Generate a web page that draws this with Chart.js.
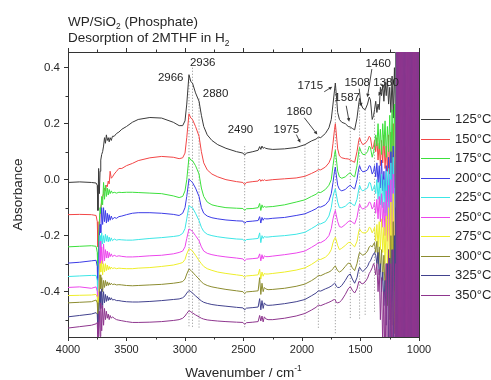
<!DOCTYPE html>
<html><head><meta charset="utf-8">
<script src="https://cdn.jsdelivr.net/npm/chart.js@4.4.1/dist/chart.umd.min.js"></script>
<style>html,body{margin:0;padding:0;background:#fff;}canvas{display:block;}</style>
</head><body>
<canvas id="c" width="491" height="380"></canvas>
<script>
// ---------- DATA ----------
const wavenumbers = [
  4000, 3900, 3800, 3760,
  3750, 3744, 3738, 3732, 3726, 3720, 3712, 3704, 3696, 3688, 3680, 3672, 3664, 3656, 3648, 3640, 3630, 3620, 3605, 3585, 3565,
  3540, 3500, 3450, 3400, 3300, 3200, 3100, 3050, 3020, 3000,
  2985, 2966, 2950, 2936, 2910, 2880, 2860, 2840, 2810, 2770,
  2720, 2650, 2560, 2505, 2490, 2475, 2420, 2375, 2362, 2352,
  2342, 2332, 2322, 2310, 2290, 2250, 2150, 2050, 1975, 1920,
  1880, 1860, 1840, 1800, 1770, 1750, 1735, 1722, 1715, 1708,
  1695, 1680, 1660, 1630, 1605, 1587, 1570, 1550, 1530, 1515,
  1508, 1495, 1480, 1460, 1440, 1425, 1415, 1400, 1388, 1380,
  1370, 1360, 1350, 1340, 1330, 1320, 1310, 1300, 1290, 1280, 1270, 1260, 1250, 1240, 1230, 1220, 1210, 1200
];
const satWavenumbers = [1195,1190,1185,1180,1175,1170,1165,1160,1155,1150,1145,1140,1135,1130,1125,1120,1115,1110,1105,1100,
  1095,1090,1085,1080,1075,1070,1065,1060,1055,1050,1045,1040,1035,1030,1025,1020,1015,1010,1005,1000];

const temperatures = ['125', '150', '175', '200', '225', '250', '275', '300', '325', '350'];

const s125 = [
  -0.01, -0.008, -0.01, -0.012,
  -0.02, -0.11, 0.04, -0.05, 0.03, 0.07, 0.09, 0.1, 0.12, 0.15, 0.13, 0.16, 0.14, 0.15, 0.135, 0.15, 0.14, 0.155, 0.155, 0.165, 0.17,
  0.18, 0.19, 0.205, 0.215, 0.222, 0.22, 0.205, 0.193, 0.193, 0.21,
  0.27, 0.375, 0.35, 0.345, 0.31, 0.28, 0.23, 0.19, 0.16, 0.14,
  0.125, 0.112, 0.1, 0.095, 0.088, 0.095, 0.1, 0.105, 0.118, 0.108,
  0.12, 0.112, 0.115, 0.112, 0.11, 0.108, 0.11, 0.115, 0.125, 0.138,
  0.145, 0.152, 0.15, 0.165, 0.185, 0.215, 0.27, 0.32, 0.345, 0.31,
  0.24, 0.215, 0.205, 0.2, 0.19, 0.188, 0.183, 0.178, 0.22, 0.27,
  0.29, 0.27, 0.255, 0.25, 0.27, 0.295, 0.285, 0.215, 0.23, 0.25,
  0.28, 0.24, 0.27, 0.25, 0.33, 0.3, 0.34, 0.28, 0.35, 0.3, 0.36, 0.27, 0.33, 0.24, 0.37, 0.22, 0.4, 0.2
];
const s150 = [
  -0.125, -0.124, -0.125, -0.128,
  -0.15, -0.24, -0.2, -0.17, -0.12, -0.1, -0.08, -0.06, -0.05, -0.03, -0.04, -0.02, -0.025, -0.005, -0.015, 0.03, 0.005, 0.01, 0.02, 0.03, 0.04,
  0.04, 0.05, 0.058, 0.068, 0.078, 0.083, 0.08, 0.075, 0.078, 0.095,
  0.15, 0.235, 0.22, 0.215, 0.19, 0.155, 0.1, 0.06, 0.035, 0.02,
  0.01, 0.0, -0.007, -0.01, -0.018, -0.01, -0.007, -0.005, 0.002, -0.006,
  0.0, -0.004, 0.0, -0.003, -0.002, 0.0, 0.003, 0.006, 0.012, 0.022,
  0.03, 0.036, 0.035, 0.045, 0.06, 0.08, 0.13, 0.18, 0.2, 0.17,
  0.11, 0.085, 0.078, 0.075, 0.074, 0.07, 0.066, 0.062, 0.1, 0.14,
  0.15, 0.135, 0.125, 0.13, 0.14, 0.155, 0.15, 0.11, 0.12, 0.14,
  0.1, 0.15, 0.07, 0.13, 0.05, 0.14, 0.06, 0.16, 0.04, 0.12, 0.03, 0.16, 0.02, 0.17, 0.0, 0.2, -0.03, 0.22
];
const s175 = [
  -0.24, -0.238, -0.236, -0.238,
  -0.26, -0.33, -0.2, -0.15, -0.1, -0.12, -0.06, -0.09, -0.01, -0.07, -0.02, -0.06, -0.03, -0.055, -0.035, -0.05, -0.04, -0.048, -0.045, -0.048, -0.045,
  -0.046, -0.045, -0.045, -0.046, -0.048, -0.05, -0.058, -0.064, -0.06, -0.04,
  0.0, 0.08, 0.07, 0.068, 0.05, 0.02, -0.03, -0.06, -0.08, -0.09,
  -0.095, -0.1, -0.102, -0.103, -0.11, -0.104, -0.103, -0.1, -0.085, -0.11,
  -0.09, -0.1, -0.095, -0.098, -0.097, -0.096, -0.09, -0.08, -0.072, -0.06,
  -0.052, -0.045, -0.046, -0.035, -0.02, 0.0, 0.05, 0.09, 0.105, 0.08,
  0.03, 0.01, 0.005, 0.01, 0.02, 0.025, 0.015, 0.01, 0.05, 0.1,
  0.115, 0.1, 0.09, 0.09, 0.1, 0.12, 0.115, 0.08, 0.1, 0.12,
  0.16, 0.12, 0.2, 0.11, 0.18, 0.09, 0.2, 0.12, 0.21, 0.08, 0.19, 0.1, 0.23, 0.06, 0.25, 0.03, 0.27, 0.0
];
const s200 = [
  -0.298, -0.295, -0.29, -0.288,
  -0.31, -0.42, -0.3, -0.2, -0.16, -0.19, -0.1, -0.16, -0.1, -0.15, -0.11, -0.155, -0.12, -0.15, -0.125, -0.145, -0.13, -0.142, -0.135, -0.138, -0.132,
  -0.13, -0.125, -0.12, -0.118, -0.118, -0.12, -0.124, -0.128, -0.12, -0.1,
  -0.06, 0.002, -0.005, -0.01, -0.03, -0.06, -0.1, -0.12, -0.13, -0.136,
  -0.14, -0.144, -0.147, -0.148, -0.156, -0.15, -0.148, -0.146, -0.132, -0.155,
  -0.135, -0.145, -0.138, -0.14, -0.14, -0.138, -0.135, -0.128, -0.122, -0.112,
  -0.104, -0.097, -0.098, -0.09, -0.075, -0.05, -0.01, 0.03, 0.045, 0.02,
  -0.02, -0.035, -0.04, -0.035, -0.025, -0.02, -0.028, -0.033, 0.0, 0.04,
  0.05, 0.035, 0.028, 0.03, 0.035, 0.05, 0.048, 0.02, 0.03, 0.05,
  0.01, 0.06, -0.01, 0.05, -0.03, 0.07, -0.04, 0.03, -0.06, 0.05, -0.08, 0.08, -0.1, 0.1, -0.13, 0.12, -0.15, 0.15
];
const s225 = [
  -0.346, -0.344, -0.342, -0.342,
  -0.36, -0.45, -0.35, -0.27, -0.2, -0.24, -0.19, -0.23, -0.2, -0.225, -0.195, -0.22, -0.2, -0.222, -0.205, -0.22, -0.208, -0.218, -0.212, -0.216, -0.214,
  -0.215, -0.216, -0.216, -0.214, -0.21, -0.207, -0.203, -0.2, -0.192, -0.175,
  -0.14, -0.093, -0.098, -0.1, -0.12, -0.146, -0.17, -0.185, -0.195, -0.2,
  -0.204, -0.208, -0.212, -0.213, -0.22, -0.214, -0.212, -0.21, -0.19, -0.225,
  -0.2, -0.21, -0.203, -0.205, -0.205, -0.203, -0.2, -0.195, -0.188, -0.175,
  -0.165, -0.158, -0.158, -0.15, -0.13, -0.1, -0.06, -0.04, -0.033, -0.05,
  -0.08, -0.1, -0.1, -0.095, -0.085, -0.08, -0.088, -0.093, -0.07, -0.035,
  -0.02, -0.035, -0.04, -0.035, -0.03, -0.01, -0.012, -0.04, -0.03, -0.02,
  -0.05, 0.0, -0.07, -0.01, -0.09, 0.02, -0.1, 0.0, -0.12, 0.03, -0.14, 0.04, -0.16, 0.06, -0.2, 0.08, -0.22, 0.1
];
const s250 = [
  -0.385, -0.383, -0.388, -0.383,
  -0.4, -0.47, -0.4, -0.33, -0.22, -0.3, -0.24, -0.3, -0.23, -0.29, -0.25, -0.28, -0.255, -0.28, -0.26, -0.275, -0.265, -0.275, -0.27, -0.274, -0.272,
  -0.274, -0.276, -0.276, -0.275, -0.272, -0.27, -0.265, -0.26, -0.255, -0.24,
  -0.21, -0.176, -0.18, -0.185, -0.2, -0.218, -0.24, -0.255, -0.263, -0.268,
  -0.272, -0.276, -0.28, -0.283, -0.29, -0.284, -0.282, -0.28, -0.265, -0.29,
  -0.268, -0.283, -0.272, -0.275, -0.275, -0.273, -0.268, -0.262, -0.255, -0.242,
  -0.232, -0.225, -0.225, -0.215, -0.2, -0.175, -0.14, -0.118, -0.11, -0.125,
  -0.15, -0.168, -0.17, -0.16, -0.15, -0.146, -0.152, -0.158, -0.135, -0.1,
  -0.087, -0.1, -0.105, -0.1, -0.095, -0.08, -0.082, -0.105, -0.095, -0.08,
  -0.12, -0.07, -0.14, -0.06, -0.15, -0.05, -0.17, -0.08, -0.2, -0.04, -0.22, -0.02, -0.25, 0.0, -0.28, 0.02, -0.3, 0.05
];
const s275 = [
  -0.414, -0.413, -0.412, -0.41,
  -0.42, -0.5, -0.42, -0.36, -0.3, -0.33, -0.29, -0.34, -0.3, -0.33, -0.3, -0.325, -0.305, -0.322, -0.31, -0.32, -0.312, -0.318, -0.315, -0.318, -0.316,
  -0.317, -0.318, -0.318, -0.316, -0.314, -0.31, -0.305, -0.3, -0.296, -0.285,
  -0.265, -0.247, -0.25, -0.255, -0.27, -0.289, -0.3, -0.31, -0.318, -0.324,
  -0.33, -0.335, -0.34, -0.343, -0.35, -0.344, -0.342, -0.34, -0.32, -0.355,
  -0.33, -0.345, -0.335, -0.337, -0.337, -0.335, -0.33, -0.323, -0.315, -0.303,
  -0.292, -0.285, -0.285, -0.277, -0.265, -0.25, -0.225, -0.21, -0.206, -0.215,
  -0.235, -0.25, -0.245, -0.235, -0.225, -0.224, -0.232, -0.24, -0.22, -0.185,
  -0.176, -0.185, -0.19, -0.19, -0.185, -0.17, -0.172, -0.19, -0.18, -0.17,
  -0.22, -0.16, -0.24, -0.15, -0.25, -0.14, -0.26, -0.17, -0.3, -0.13, -0.32, -0.1, -0.35, -0.08, -0.38, -0.05, -0.4, 0.0
];
const s300 = [
  -0.44, -0.438, -0.436, -0.43,
  -0.44, -0.5, -0.47, -0.42, -0.34, -0.39, -0.35, -0.4, -0.36, -0.385, -0.36, -0.38, -0.365, -0.378, -0.368, -0.376, -0.37, -0.375, -0.373, -0.376, -0.375,
  -0.376, -0.378, -0.379, -0.378, -0.376, -0.374, -0.37, -0.367, -0.364, -0.355,
  -0.337, -0.319, -0.324, -0.33, -0.342, -0.355, -0.365, -0.372, -0.378, -0.383,
  -0.387, -0.392, -0.397, -0.4, -0.407, -0.401, -0.399, -0.397, -0.35, -0.41,
  -0.37, -0.4, -0.385, -0.39, -0.393, -0.392, -0.388, -0.381, -0.373, -0.361,
  -0.35, -0.342, -0.343, -0.335, -0.33, -0.325, -0.318, -0.31, -0.308, -0.315,
  -0.325, -0.33, -0.325, -0.31, -0.298, -0.3, -0.315, -0.325, -0.3, -0.27,
  -0.26, -0.265, -0.27, -0.265, -0.255, -0.24, -0.236, -0.24, -0.23, -0.225,
  -0.26, -0.22, -0.3, -0.24, -0.33, -0.25, -0.36, -0.27, -0.4, -0.3, -0.45, -0.25, -0.5, -0.2, -0.52, -0.15, -0.55, -0.1
];
const s325 = [
  -0.49, -0.485, -0.48, -0.475,
  -0.48, -0.55, -0.5, -0.44, -0.4, -0.46, -0.39, -0.45, -0.4, -0.44, -0.41, -0.435, -0.415, -0.432, -0.42, -0.43, -0.422, -0.43, -0.428, -0.432, -0.432,
  -0.434, -0.436, -0.437, -0.437, -0.435, -0.432, -0.428, -0.426, -0.422, -0.415,
  -0.405, -0.396, -0.4, -0.405, -0.415, -0.426, -0.433, -0.438, -0.442, -0.446,
  -0.449, -0.452, -0.456, -0.458, -0.465, -0.459, -0.457, -0.455, -0.425, -0.465,
  -0.432, -0.46, -0.44, -0.447, -0.449, -0.448, -0.443, -0.436, -0.428, -0.415,
  -0.405, -0.397, -0.398, -0.39, -0.385, -0.38, -0.375, -0.37, -0.372, -0.38,
  -0.385, -0.385, -0.378, -0.36, -0.342, -0.337, -0.355, -0.37, -0.35, -0.32,
  -0.313, -0.322, -0.328, -0.32, -0.31, -0.295, -0.29, -0.275, -0.265, -0.26,
  -0.27, -0.3, -0.26, -0.34, -0.3, -0.4, -0.33, -0.45, -0.36, -0.52, -0.3, -0.58, -0.28, -0.6, -0.25, -0.6, -0.2, -0.6
];
const s350 = [
  -0.53, -0.525, -0.52, -0.515,
  -0.51, -0.58, -0.53, -0.47, -0.56, -0.44, -0.54, -0.45, -0.52, -0.46, -0.5, -0.47, -0.495, -0.48, -0.5, -0.485, -0.495, -0.49, -0.495, -0.5, -0.502,
  -0.504, -0.507, -0.51, -0.51, -0.509, -0.507, -0.503, -0.5, -0.495, -0.487,
  -0.478, -0.468, -0.472, -0.476, -0.483, -0.49, -0.495, -0.498, -0.501, -0.503,
  -0.505, -0.507, -0.509, -0.51, -0.517, -0.511, -0.509, -0.507, -0.485, -0.505,
  -0.487, -0.508, -0.49, -0.497, -0.5, -0.5, -0.495, -0.487, -0.478, -0.466,
  -0.456, -0.448, -0.45, -0.443, -0.438, -0.434, -0.43, -0.428, -0.43, -0.438,
  -0.44, -0.438, -0.43, -0.41, -0.39, -0.382, -0.395, -0.405, -0.39, -0.365,
  -0.362, -0.37, -0.372, -0.365, -0.352, -0.335, -0.328, -0.315, -0.3, -0.31,
  -0.34, -0.3, -0.4, -0.32, -0.5, -0.35, -0.6, -0.4, -0.7, -0.3, -0.8, -0.25, -0.7, -0.3, -0.8, -0.25, -0.7, -0.3
];

// saturated (off-scale) readings below ~1200 cm-1
const sat125 = [1.2,-1.5,1.8,-1.1,1.4,-1.7,1.3,-1.2,1.9,-1.4,1.1,-1.6,1.5,-1.3,1.7,-1.2,1.4,-1.8,1.2,-1.5,1.6,-1.1,1.3,-1.7,1.8,-1.4,1.2,-1.6,1.5,-1.2,1.7,-1.3,1.1,-1.5,1.4,-1.8,1.6,-1.2,1.3,-1.4];
const sat150 = [-1.4,1.3,-1.6,1.2,-1.5,1.8,-1.1,1.6,-1.3,1.4,-1.7,1.2,-1.5,1.9,-1.2,1.4,-1.6,1.3,-1.8,1.5,-1.2,1.7,-1.4,1.1,-1.6,1.3,-1.5,1.8,-1.2,1.4,-1.7,1.6,-1.3,1.2,-1.5,1.4,-1.1,1.7,-1.6,1.3];
const sat175 = [1.5,-1.2,1.4,-1.8,1.1,-1.5,1.7,-1.3,1.2,-1.6,1.8,-1.4,1.3,-1.1,1.6,-1.7,1.2,-1.3,1.5,-1.6,1.4,-1.2,1.8,-1.5,1.1,-1.3,1.7,-1.4,1.6,-1.8,1.2,-1.5,1.4,-1.1,1.3,-1.7,1.5,-1.2,1.8,-1.6];
const sat200 = [-1.6,1.4,-1.2,1.7,-1.5,1.1,-1.8,1.3,-1.4,1.6,-1.2,1.5,-1.7,1.3,-1.1,1.8,-1.4,1.2,-1.6,1.5,-1.3,1.4,-1.8,1.6,-1.2,1.1,-1.5,1.7,-1.4,1.3,-1.6,1.2,-1.7,1.5,-1.3,1.8,-1.2,1.4,-1.5,1.1];
const sat225 = [1.3,-1.7,1.6,-1.4,1.2,-1.3,1.5,-1.6,1.8,-1.2,1.4,-1.5,1.1,-1.7,1.3,-1.4,1.6,-1.2,1.7,-1.8,1.2,-1.5,1.4,-1.3,1.6,-1.1,1.5,-1.7,1.3,-1.4,1.8,-1.2,1.6,-1.5,1.1,-1.3,1.4,-1.6,1.2,-1.8];
const sat250 = [-1.2,1.6,-1.5,1.3,-1.7,1.4,-1.2,1.8,-1.5,1.1,-1.3,1.6,-1.4,1.2,-1.8,1.5,-1.1,1.7,-1.3,1.4,-1.6,1.2,-1.5,1.8,-1.3,1.6,-1.2,1.4,-1.7,1.1,-1.5,1.3,-1.4,1.6,-1.8,1.2,-1.3,1.5,-1.1,1.7];
const sat275 = [1.7,-1.3,1.2,-1.5,1.6,-1.4,1.1,-1.7,1.3,-1.8,1.5,-1.2,1.4,-1.6,1.2,-1.3,1.8,-1.5,1.1,-1.4,1.7,-1.6,1.3,-1.2,1.5,-1.8,1.4,-1.1,1.2,-1.6,1.3,-1.4,1.7,-1.2,1.5,-1.5,1.1,-1.3,1.6,-1.7];
const sat300 = [-1.5,1.2,-1.7,1.6,-1.3,1.5,-1.4,1.2,-1.6,1.8,-1.1,1.3,-1.5,1.4,-1.7,1.2,-1.6,1.5,-1.2,1.3,-1.8,1.6,-1.1,1.4,-1.5,1.2,-1.7,1.3,-1.4,1.8,-1.2,1.5,-1.6,1.1,-1.3,1.7,-1.5,1.2,-1.4,1.6];
const sat325 = [1.8,-1.6,1.7,-1.8,1.6,-1.7,1.8,-1.6,1.7,-1.8,1.6,-1.7,1.8,-1.6,1.7,-1.8,1.6,-1.7,1.8,-1.6,1.7,-1.8,1.6,-1.7,1.8,-1.6,1.7,-1.8,1.6,-1.7,1.8,-1.6,1.7,-1.8,1.6,-1.7,1.8,-1.6,1.7,-1.8];
const sat350 = [-2,2,-2,2,-2,2,-2,2,-2,2,-2,2,-2,2,-2,2,-2,2,-2,2,-2,2,-2,2,-2,2,-2,2,-2,2,-2,2,-2,2,-2,2,-2,2,-2,2];

const xTicks = [1000, 1500, 2000, 2500, 3000, 3500, 4000];
const xMinorTicks = [1250, 1750, 2250, 2750, 3250, 3750];
const yTicks = [-0.4, -0.2, 0.0, 0.2, 0.4];
const yMinorTicks = [-0.5, -0.3, -0.1, 0.1, 0.3];

// marked bands: wavenumber, top, bottom of the dotted guide
const peakWavenumbers = [2966, 2936, 2880, 2490, 1975, 1860, 1715, 1587, 1508, 1460, 1380];
const peakTops    = [0.37, 0.40, 0.29, 0.12, 0.125, 0.15, 0.345, 0.185, 0.29, 0.25, 0.25];
const peakBottoms = [-0.53, -0.53, -0.53, -0.53, -0.50, -0.53, -0.55, -0.50, -0.50, -0.485, -0.475];
const peakLabels  = ['2966', '2936', '2880', '2490', '1975', '1860', '1715', '1587', '1508', '1460', '1380'];
const labelX = [3122, 2849, 2739, 2526, 2134, 2023, 1929, 1614, 1528, 1349, 1281];
const labelY = [0.364, 0.418, 0.307, 0.179, 0.179, 0.243, 0.336, 0.293, 0.346, 0.414, 0.346];
// arrows: from (wn, abs) to (wn, abs)
const arrowFrom = [[2048, 0.161], [1980, 0.221], [1810, 0.314], [1622, 0.264], [1511, 0.325], [1403, 0.395], [1298, 0.336]];
const arrowTo   = [[2014, 0.132], [1869, 0.161], [1741, 0.332], [1597, 0.207], [1494, 0.261], [1441, 0.294], [1347, 0.300]];

// ---------- BUILD ----------
const seriesValues = [s125, s150, s175, s200, s225, s250, s275, s300, s325, s350];
const satValues = [sat125, sat150, sat175, sat200, sat225, sat250, sat275, sat300, sat325, sat350];
const colors = ['#3a3a3a', '#f24646', '#3ce03c', '#3c3ce6', '#3ce6e6', '#ec46ec', '#eeee2a', '#8c8c30', '#42428e', '#8e368e'];
const FONT = '"Liberation Sans", Arial, Helvetica, sans-serif';
const TXT = '#262626';

seriesValues.forEach((s, i) => { if (s.length !== wavenumbers.length) console.error('length mismatch', i, s.length); });

const datasets = [];
temperatures.forEach((t, i) => {
  const pts = [];
  wavenumbers.forEach((w, j) => pts.push({x: w, y: seriesValues[i][j]}));
  satWavenumbers.forEach((w, j) => pts.push({x: w, y: satValues[i][j]}));
  datasets.push({
    label: t + '°C', data: pts, borderColor: colors[i], borderWidth: 1,
    pointRadius: 0, tension: 0, fill: false, order: 10 - i
  });
});
peakWavenumbers.forEach((w, k) => {
  datasets.push({
    label: 'guide' + w, data: [{x: w, y: peakTops[k]}, {x: w, y: peakBottoms[k]}],
    borderColor: '#8a8a8a', borderWidth: 0.8, borderDash: [1.2, 1.8], pointRadius: 0, order: 30
  });
});

function drawParts(ctx, x, y, parts, size) {
  let cx = x;
  parts.forEach(p => {
    const fs = p[1] ? size * 0.62 : size;
    ctx.font = fs + 'px ' + FONT;
    const dy = p[1] === 'sub' ? size * 0.28 : (p[1] === 'sup' ? -size * 0.42 : 0);
    ctx.fillText(p[0], cx, y + dy);
    cx += ctx.measureText(p[0]).width;
  });
  return cx - x;
}
function measureParts(ctx, parts, size) {
  let w = 0;
  parts.forEach(p => { ctx.font = (p[1] ? size * 0.62 : size) + 'px ' + FONT; w += ctx.measureText(p[0]).width; });
  return w;
}

const decor = {
  id: 'decor',
  afterDraw(chart) {
    const ctx = chart.ctx, xs = chart.scales.x, ys = chart.scales.y, ca = chart.chartArea;
    ctx.save();
    // minor ticks
    ctx.strokeStyle = '#333'; ctx.lineWidth = 1;
    ctx.beginPath();
    xMinorTicks.forEach(v => {
      const px = Math.round(xs.getPixelForValue(v)) + 0.5;
      ctx.moveTo(px, ca.bottom); ctx.lineTo(px, ca.bottom + 2.5);
      ctx.moveTo(px, ca.top); ctx.lineTo(px, ca.top - 2.5);
    });
    yMinorTicks.forEach(v => {
      const py = Math.round(ys.getPixelForValue(v)) + 0.5;
      ctx.moveTo(ca.left, py); ctx.lineTo(ca.left - 2.5, py);
    });
    ctx.stroke();

    // peak labels
    ctx.fillStyle = TXT; ctx.textAlign = 'center'; ctx.textBaseline = 'middle';
    ctx.font = '11.5px ' + FONT;
    peakLabels.forEach((l, k) => {
      ctx.fillText(l, xs.getPixelForValue(labelX[k]), ys.getPixelForValue(labelY[k]));
    });
    // arrows
    ctx.strokeStyle = '#333'; ctx.fillStyle = '#333'; ctx.lineWidth = 0.9;
    arrowFrom.forEach((f, k) => {
      const x1 = xs.getPixelForValue(f[0]), y1 = ys.getPixelForValue(f[1]);
      const x2 = xs.getPixelForValue(arrowTo[k][0]), y2 = ys.getPixelForValue(arrowTo[k][1]);
      const a = Math.atan2(y2 - y1, x2 - x1), h = 4;
      ctx.beginPath(); ctx.moveTo(x1, y1); ctx.lineTo(x2 - Math.cos(a) * 2, y2 - Math.sin(a) * 2); ctx.stroke();
      ctx.beginPath();
      ctx.moveTo(x2, y2);
      ctx.lineTo(x2 - h * Math.cos(a - 0.45), y2 - h * Math.sin(a - 0.45));
      ctx.lineTo(x2 - h * Math.cos(a + 0.45), y2 - h * Math.sin(a + 0.45));
      ctx.closePath(); ctx.fill();
    });

    // title
    ctx.fillStyle = TXT; ctx.textAlign = 'left'; ctx.textBaseline = 'alphabetic';
    drawParts(ctx, 68, 25.5, [['WP/SiO', 0], ['2', 'sub'], [' (Phosphate)', 0]], 13.5);
    drawParts(ctx, 68, 42, [['Desorption of 2MTHF in H', 0], ['2', 'sub']], 13.5);

    // x axis title
    const xt = [['Wavenumber / cm', 0], ['-1', 'sup']];
    const wx = measureParts(ctx, xt, 13.5);
    drawParts(ctx, (ca.left + ca.right) / 2 - wx / 2, 377, xt, 13.5);
    // y axis title
    ctx.save();
    ctx.translate(22, (ca.top + ca.bottom) / 2);
    ctx.rotate(-Math.PI / 2);
    ctx.textAlign = 'center';
    ctx.font = '13.5px ' + FONT;
    ctx.fillText('Absorbance', 0, 0);
    ctx.restore();

    // legend
    ctx.textAlign = 'left'; ctx.textBaseline = 'middle'; ctx.font = '13px ' + FONT;
    temperatures.forEach((t, i) => {
      const y = 119 + i * 19.5;
      ctx.strokeStyle = colors[i]; ctx.lineWidth = 1;
      ctx.beginPath(); ctx.moveTo(421, Math.round(y) + 0.5); ctx.lineTo(450, Math.round(y) + 0.5); ctx.stroke();
      ctx.fillStyle = TXT;
      ctx.fillText(t + '°C', 455, y + 0.5);
    });
    ctx.restore();
  }
};

const axisCommon = {
  grid: { display: true, drawOnChartArea: false, drawTicks: true, tickLength: 4, color: '#333', tickColor: '#333', lineWidth: 1 },
  border: { display: true, color: '#333', width: 1 }
};

new Chart(document.getElementById('c'), {
  type: 'line',
  data: { datasets },
  options: {
    responsive: false, animation: false, devicePixelRatio: 1, events: [],
    parsing: true, spanGaps: true,
    layout: { padding: 0 },
    plugins: { legend: { display: false }, tooltip: { enabled: false }, title: { display: false } },
    scales: {
      x: {
        type: 'linear', position: 'bottom', min: 1000, max: 4000, reverse: true,
        afterBuildTicks: s => { s.ticks = xTicks.map(v => ({value: v})); },
        afterFit: s => { s.height = 43; },
        ticks: { font: { size: 11, family: FONT }, color: TXT, padding: 2, maxRotation: 0, autoSkip: false, callback: v => String(v) },
        ...axisCommon
      },
      x2: {
        type: 'linear', position: 'top', min: 1000, max: 4000, reverse: true,
        afterBuildTicks: s => { s.ticks = xTicks.map(v => ({value: v})); },
        afterFit: s => { s.height = 52; },
        ticks: { display: false },
        ...axisCommon
      },
      y: {
        type: 'linear', position: 'left', min: -0.562, max: 0.456,
        afterBuildTicks: s => { s.ticks = yTicks.map(v => ({value: v})); },
        afterFit: s => { s.width = 68; },
        ticks: { font: { size: 11.5, family: FONT }, color: TXT, padding: 4, callback: v => v.toFixed(1) },
        ...axisCommon
      },
      y2: {
        type: 'linear', position: 'right', min: -0.562, max: 0.456,
        afterFit: s => { s.width = 72; },
        ticks: { display: false },
        grid: { display: false },
        border: { display: true, color: '#333', width: 1 }
      }
    }
  },
  plugins: [decor]
});
</script>
</body></html>
